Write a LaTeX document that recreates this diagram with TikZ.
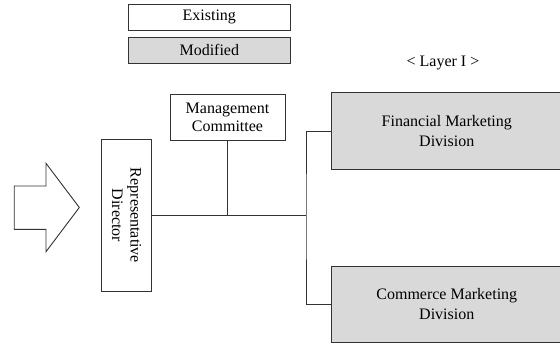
\documentclass[tikz,border=0pt]{standalone}
\usepackage{fontspec}
\setmainfont{Liberation Serif}
\begin{document}
\begin{tikzpicture}[x=1pt,y=-1pt,
  box/.style={draw=black!80,line width=0.9pt,rectangle,inner sep=0pt,align=center,font=\fontsize{16}{18.5}\selectfont},
  mod/.style={box,fill=black!15},
  conn/.style={draw=black!80,line width=0.9pt}]
\useasboundingbox (0,0) rectangle (560,345);
\node[box,minimum width=161.4pt,minimum height=26.7pt] (existing) at (209.3,17.4) {Existing};
\node[mod,minimum width=161.4pt,minimum height=26.3pt] (modified) at (209.3,50.2) {Modified};
\node[font=\fontsize{16}{18.5}\selectfont] (layer) at (443,62.5) {< Layer I >};
\node[box,minimum width=115pt,minimum height=46.3pt] (mgmt) at (227.5,117.2) {Management\\Committee};
\node[box,minimum width=49.6pt,minimum height=152.6pt] (rep) at (126.6,215.5) {};
\node[rotate=-90,align=center,font=\fontsize{16}{18.5}\selectfont] (reptext) at (rep.center) {Representative\\Director};
\node[mod,minimum width=230pt,minimum height=76.7pt,font=\fontsize{16}{20}\selectfont] (fin) at (446.8,131.3) {Financial Marketing\\Division};
\node[mod,minimum width=230pt,minimum height=76pt,font=\fontsize{16}{20}\selectfont] (com) at (446.8,304) {Commerce Marketing\\Division};
\coordinate (trunk) at (306,215.5);
\draw[conn] (rep.east) -- (trunk);
\draw[conn] (mgmt.south) -- (mgmt.south |- trunk);
\draw[conn] (fin.west) -| (trunk) |- (com.west);
\draw[draw=black!80,line width=0.9pt,line join=miter] (14.2,186) -- (46,186) -- (46,163.3) -- (79.3,207.5) -- (46,251.7) -- (46,229.3) -- (14.2,229.3) -- cycle;
\end{tikzpicture}
\end{document}
